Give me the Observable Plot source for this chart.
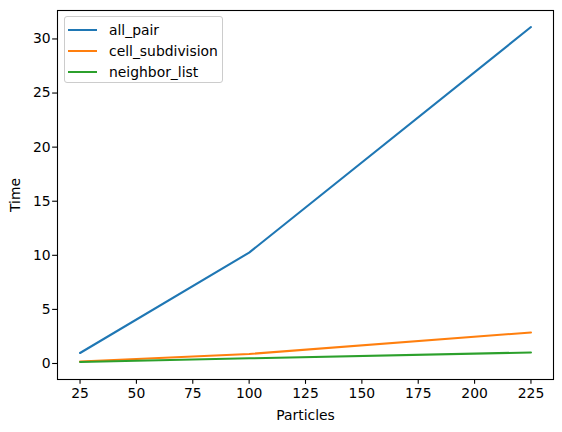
<!DOCTYPE html>
<html>
<head>
<meta charset="utf-8">
<script src="https://cdn.jsdelivr.net/npm/d3@7"></script>
<script src="https://cdn.jsdelivr.net/npm/@observablehq/plot@0.6"></script>
<style>
  html, body { margin: 0; padding: 0; background: #fff; }
  #wrap { position: relative; width: 562px; height: 432px; font-family: "DejaVu Sans", sans-serif; }
  .legend { position: absolute; left: 64px; top: 16px; width: 157px; height: 65px;
    border: 1px solid #cccccc; border-radius: 3px; background: rgba(255,255,255,0.8);
    font-size: 13.9px; color: #000; }
  .legend .row { position: absolute; left: 0; height: 0; }
  .legend .sw { position: absolute; left: 3px; width: 29px; height: 2px; top: -1px; }
  .legend .lb { position: absolute; left: 44px; top: -9px; white-space: nowrap; line-height: 18px; }
</style>
</head>
<body>
<div id="wrap"></div>
<script>
const particles = [25, 100, 225];
const allPair = [0.97, 10.25, 31.1];
const cellSubdivision = [0.19, 0.88, 2.87];
const neighborList = [0.13, 0.48, 1.02];
const seriesNames = ["all_pair", "cell_subdivision", "neighbor_list"];
const seriesColors = ["#1f77b4", "#ff7f0e", "#2ca02c"];
const xTicks = [25, 50, 75, 100, 125, 150, 175, 200, 225];
const yTicks = [0, 5, 10, 15, 20, 25, 30];

const seriesValues = [allPair, cellSubdivision, neighborList];
const data = [];
seriesNames.forEach((name, i) => {
  particles.forEach((p, j) => data.push({series: name, particles: p, time: seriesValues[i][j]}));
});

const chart = Plot.plot({
  width: 562,
  height: 432,
  marginLeft: 57,
  marginRight: 9,
  marginTop: 10,
  marginBottom: 53,
  style: {fontFamily: "DejaVu Sans, sans-serif", fontSize: "13.9px", color: "#000", background: "#fff"},
  x: {domain: [15, 235]},
  y: {domain: [-1.48, 32.63]},
  color: {domain: seriesNames, range: seriesColors},
  marks: [
    Plot.axisX({ticks: xTicks, tickSize: 4.86, tickPadding: 3.5, tickFormat: d => String(d),
      label: "Particles", labelAnchor: "center", labelOffset: 40, labelArrow: "none", strokeWidth: 1.1}),
    Plot.axisY({ticks: yTicks, tickSize: 4.86, tickPadding: 2, tickFormat: d => String(d),
      label: "Time", labelAnchor: "center", labelOffset: 47, labelArrow: "none", strokeWidth: 1.1}),
    Plot.line(data, {x: "particles", y: "time", z: "series", stroke: "series", strokeWidth: 2.08}),
    Plot.frame({stroke: "#000", strokeWidth: 1.1})
  ]
});
const wrap = document.getElementById("wrap");
wrap.appendChild(chart);

const legend = document.createElement("div");
legend.className = "legend";
const rowTops = [13.3, 34, 54.8];
seriesNames.forEach((name, i) => {
  const row = document.createElement("div");
  row.className = "row";
  row.style.top = rowTops[i] + "px";
  const sw = document.createElement("div");
  sw.className = "sw";
  sw.style.background = seriesColors[i];
  const lb = document.createElement("div");
  lb.className = "lb";
  lb.textContent = name;
  row.appendChild(sw);
  row.appendChild(lb);
  legend.appendChild(row);
});
wrap.appendChild(legend);
</script>
</body>
</html>
